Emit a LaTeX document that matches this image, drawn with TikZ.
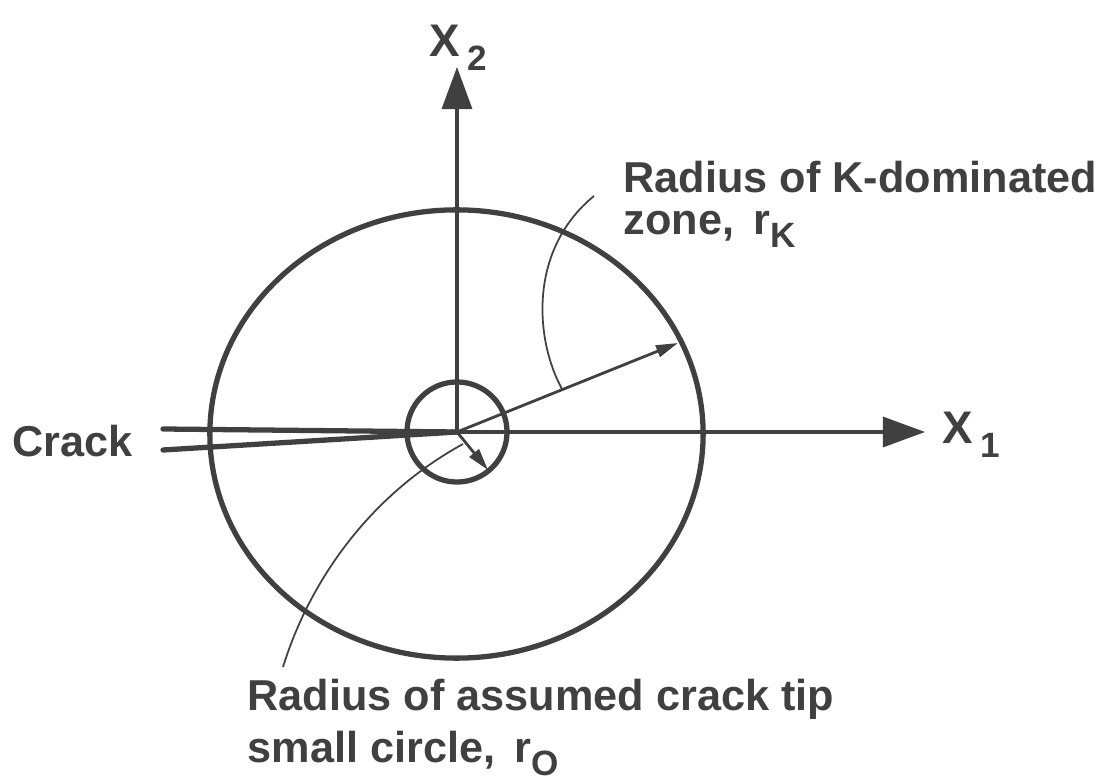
\documentclass[tikz,border=0pt]{standalone}
\usepackage{fontspec}
\setmainfont{Liberation Sans}
\usetikzlibrary{arrows.meta, positioning}
\definecolor{inkGray}{RGB}{64,64,64}
\newcommand{\lowidx}[1]{\raisebox{-0.55ex}{\fontsize{10}{10}\selectfont #1}}

\begin{document}
\begin{tikzpicture}[x=0.01cm, y=-0.01cm, line join=round,
  every node/.style={font=\fontsize{12.3}{14}\selectfont\bfseries, text=inkGray, inner sep=0pt},
  axislbl/.style={font=\fontsize{13}{14}\selectfont\bfseries},
  zoneline/.style={draw=inkGray, line width=1.5pt},
  crackline/.style={draw=inkGray, line width=1.5pt, line cap=round},
  axis/.style={draw=inkGray, line width=0.9pt, -{Triangle[length=0.42cm, width=0.3cm]}},
  radiusarrow/.style={draw=inkGray, line width=0.8pt, -{Triangle[length=0.22cm, width=0.12cm]}},
  leader/.style={draw=inkGray, line width=0.5pt}]
  \useasboundingbox (0,0) rectangle (1114,782);

  % crack tip and zones
  \coordinate (O) at (457,432);
  \draw[zoneline] (456.5,434) ellipse [x radius=2.465cm, y radius=2.24cm];
  \draw[zoneline] (O) circle [radius=0.5cm];

  % axes
  \coordinate (x1tip) at (925,432);
  \coordinate (x2tip) at (457,67);
  \draw[axis] (O) -- (x1tip);
  \draw[axis] (O) -- (x2tip);
  \node[axislbl, anchor=base west] (x1lbl) at (942,444) {X\,\lowidx{1}};
  \node[axislbl, anchor=base west] (x2lbl) at (429,57) {X\,\lowidx{2}};

  % crack faces
  \coordinate (faceA) at (163,429);
  \coordinate (faceB) at (163,450);
  \draw[crackline] (faceA) -- (O);
  \draw[crackline] (faceB) -- (O);
  \node[anchor=base west] (crack) at (12,457) {Crack};

  % radii
  \coordinate (rKtip) at (678,343);
  \coordinate (r0tip) at (488,470);
  \draw[radiusarrow] (O) -- (rKtip);
  \draw[radiusarrow] (O) -- (r0tip);

  % labels and leaders
  \node[anchor=base west] (rKtext) at (623,193) {Radius of K-dominated};
  \node[anchor=base west] (rKtext2) at (623,235) {zone,\, r\lowidx{K}};
  \node[anchor=base west] (r0text) at (247,711) {Radius of assumed crack tip};
  \node[anchor=base west] (r0text2) at (247,763) {small circle,\, r\lowidx{O}};
  \coordinate (rKfoot) at (562,389);
  \coordinate (rKend) at (594,196);
  \coordinate (r0foot) at (463,444);
  \coordinate (r0end) at (283,667);
  \draw[leader] (rKfoot) .. controls (535,340) and (528,250) .. (rKend);
  \draw[leader] (r0foot) .. controls (370,495) and (310,580) .. (r0end);
\end{tikzpicture}
\end{document}
